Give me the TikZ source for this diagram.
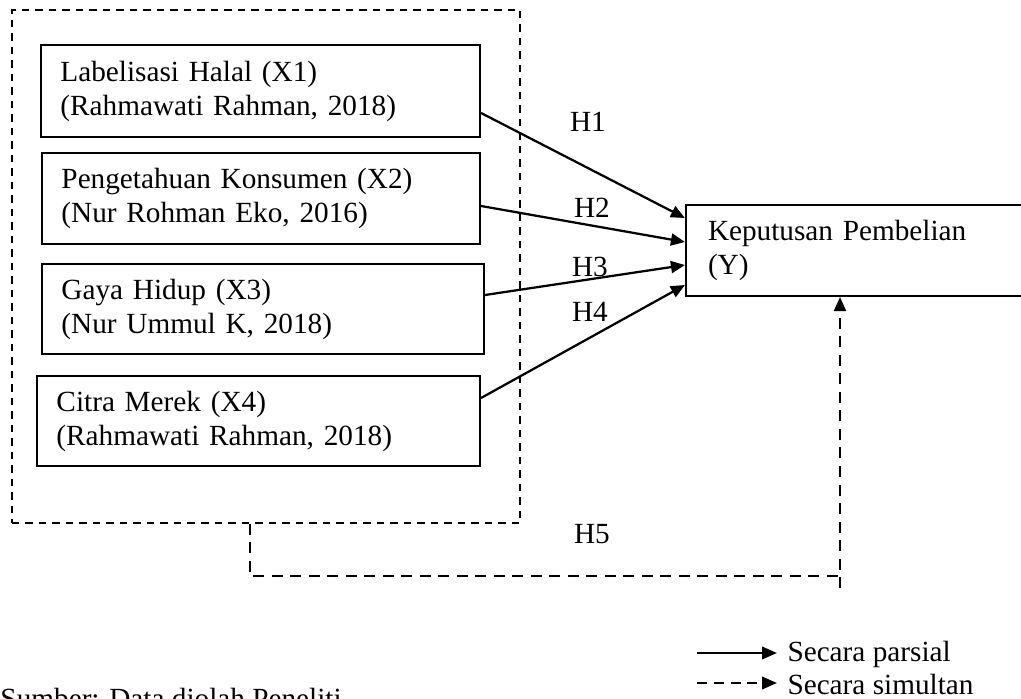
\documentclass[tikz,border=0pt]{standalone}
\usepackage{fontspec}
\setmainfont{Liberation Serif}
\usetikzlibrary{arrows.meta,calc}
\newcommand\diagfont{\fontsize{11.7pt}{13.6pt}\selectfont}
\begin{document}
\begin{tikzpicture}[x=0.4pt,y=-0.4pt,
  vbox/.style={draw, line width=0.85pt, rectangle, inner xsep=7.8pt, inner ysep=0pt, align=left, font=\diagfont},
  grpbox/.style={draw, line width=0.6pt, dash pattern=on 3pt off 2.4pt, rectangle, inner sep=0pt},
  parrow/.style={line width=0.9pt, -{Triangle[length=5.6pt,width=4.8pt]}},
  sline/.style={line width=0.85pt, dash pattern=on 4.4pt off 3pt},
  sarrow/.style={line width=0.85pt, dash pattern=on 4.4pt off 3pt, -{Triangle[length=5.6pt,width=4.8pt]}},
  ldash/.style={line width=0.85pt, dash pattern=on 4pt off 2.7pt, -{Triangle[length=6pt,width=5pt]}},
  hlab/.style={font=\diagfont, inner sep=0pt},
]
\useasboundingbox (0,0) rectangle (1021,699);
\fill[white] (0,0) rectangle (1021,699);

% group box
\node[grpbox, minimum width=203.2pt, minimum height=205.2pt] (grp) at (266,266.5) {};

% variable boxes
\node[vbox, text width=160pt, minimum height=36.8pt] (x1) at (260.5,91) {Labelisasi Halal (X1)\\(Rahmawati Rahman, 2018)};
\node[vbox, text width=159.6pt, minimum height=36.4pt] (x2) at (261,198.5) {Pengetahuan Konsumen (X2)\\(Nur Rohman Eko, 2016)};
\node[vbox, text width=161.2pt, minimum height=36pt] (x3) at (263,309) {Gaya Hidup (X3)\\(Nur Ummul K, 2018)};
\node[vbox, text width=161.6pt, minimum height=36pt] (x4) at (258.5,421) {Citra Merek (X4)\\(Rahmawati Rahman, 2018)};
\node[vbox, inner xsep=8.8pt, text width=120pt, minimum height=36.4pt] (ky) at (858,250.5) {Keputusan Pembelian\\(Y)};

% partial arrows
\draw[parrow] ([yshift=-8.8pt]x1.east) -- ([yshift=13pt]ky.west);
\draw[parrow] ([yshift=-3pt]x2.east) -- ([yshift=3.4pt]ky.west);
\draw[parrow] ([yshift=5.6pt]x3.east) -- ([yshift=-5.8pt]ky.west);
\draw[parrow] ([yshift=9.2pt]x4.east) -- ([yshift=-13.8pt]ky.west);

% labels
\node[hlab] (lh1) at (588,122) {H1};
\node[hlab] (lh2) at (592,208) {H2};
\node[hlab] (lh3) at (590,267) {H3};
\node[hlab] (lh4) at (590,312) {H4};
\node[hlab] (lh5) at (592,534) {H5};

% simultaneous path
\coordinate (h5c) at (250,576);
\coordinate (h5r) at (840,588);
\draw[sline] (grp.south -| h5c) |- (h5r |- h5c);
\draw[sarrow] (h5r) -- (h5r |- ky.south);

% legend
\node[font=\diagfont, anchor=west, inner sep=0pt] (lt1) at (787,654) {Secara parsial};
\node[font=\diagfont, anchor=west, inner sep=0pt] (lt2) at (787,684) {Secara simultan};
\coordinate (la1) at (697,653);
\coordinate (la2) at (697,683);
\draw[parrow, -{Triangle[length=6pt,width=5pt]}] (la1) -- ([xshift=-4pt]lt1.west |- la1);
\draw[ldash] (la2) -- ([xshift=-4pt]lt2.west |- la2);

% source
\node[font=\diagfont, anchor=base west, inner sep=0pt] (src) at (0,708) {Sumber: Data diolah Peneliti};
\end{tikzpicture}
\end{document}
